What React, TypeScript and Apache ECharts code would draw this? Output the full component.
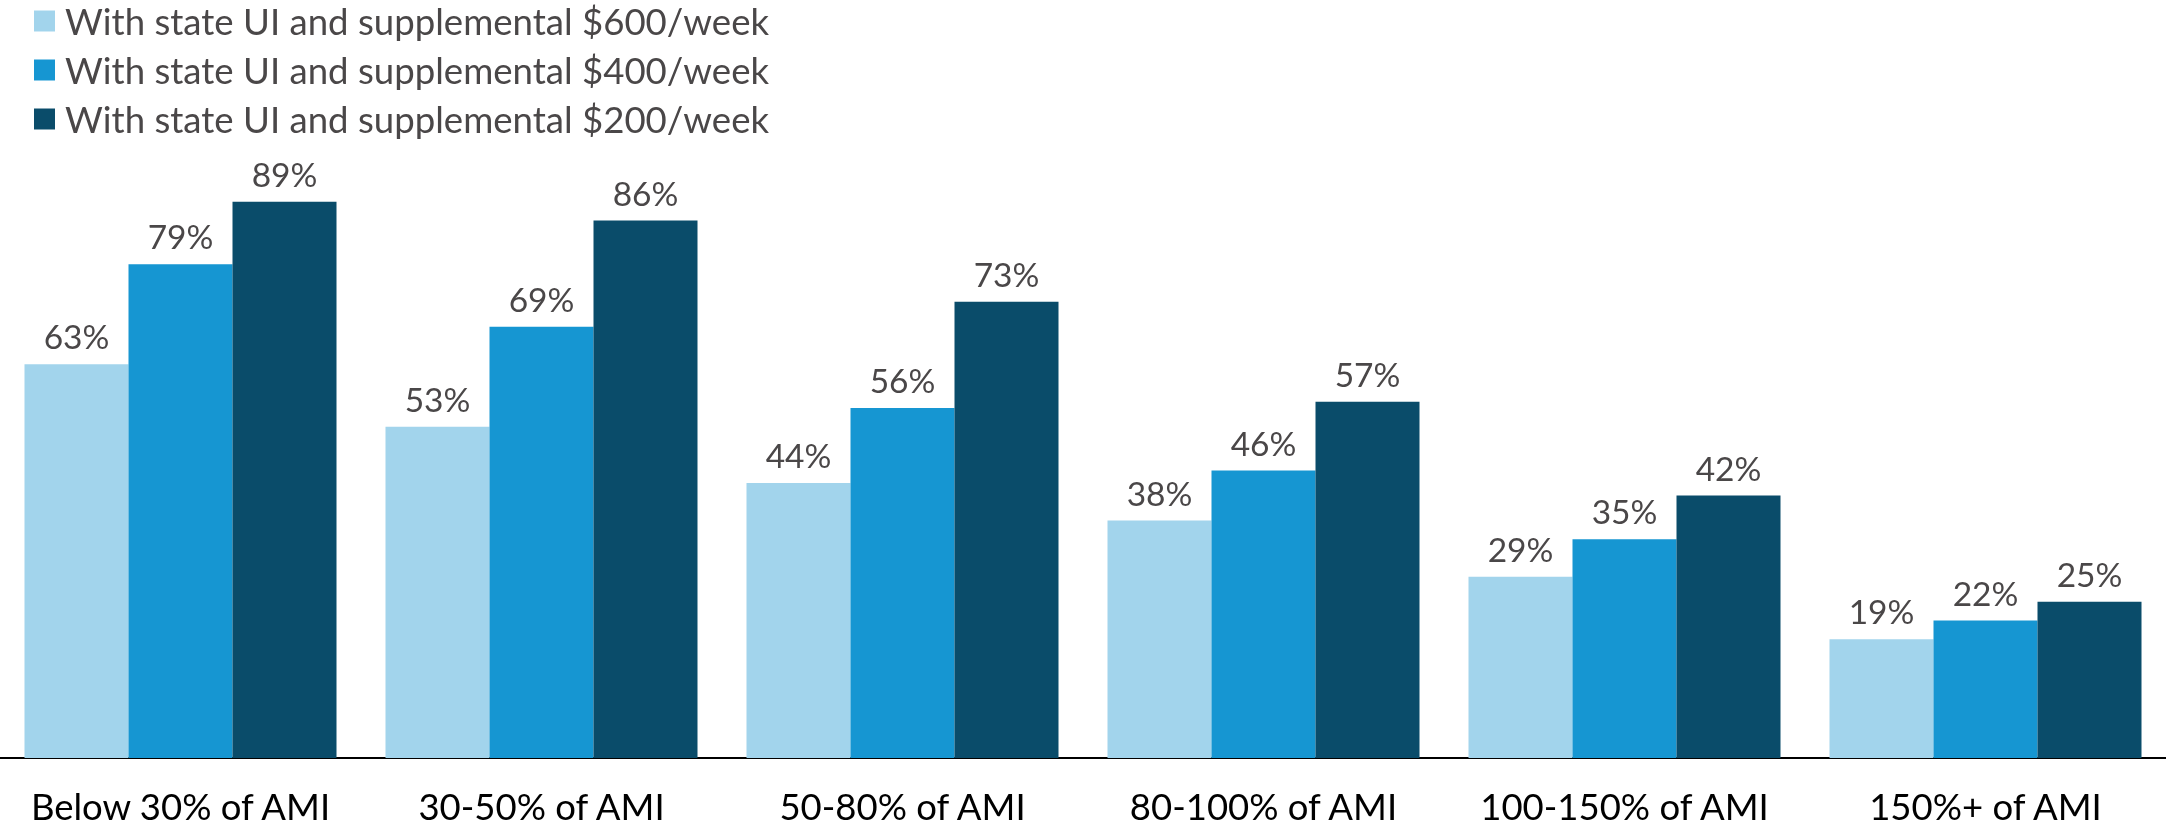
import React, { useEffect, useRef } from "react";
import * as echarts from "echarts";

const categories = [
  "Below 30% of AMI",
  "30-50% of AMI",
  "50-80% of AMI",
  "80-100% of AMI",
  "100-150% of AMI",
  "150%+ of AMI",
];
const seriesNames = [
  "With state UI and supplemental $600/week",
  "With state UI and supplemental $400/week",
  "With state UI and supplemental $200/week",
];
const values600 = [63, 53, 44, 38, 29, 19];
const values400 = [79, 69, 56, 46, 35, 22];
const values200 = [89, 86, 73, 57, 42, 25];
const colors = ["#a2d4ec", "#1696d2", "#0a4c6a"];

export default function App() {
  const ref = useRef<HTMLDivElement>(null);
  useEffect(() => {
    if (!ref.current) return;
    const chart = echarts.init(ref.current, undefined, { renderer: "svg" });
    const data = [values600, values400, values200];
    chart.setOption({
      animation: false,
      textStyle: { fontFamily: "Lato" },
      legend: {
        orient: "vertical",
        left: 34,
        top: 0,
        itemWidth: 21,
        itemHeight: 21,
        itemGap: 7,
        icon: "rect",
        padding: 0,
        textStyle: {
          fontFamily: "Lato",
          fontSize: 36.6,
          lineHeight: 42,
          color: "#4a4748",
          padding: [0, 0, 0, 5],
        },
        data: seriesNames,
      },
      grid: { left: -5, right: -3, top: 133, bottom: 70, containLabel: false },
      xAxis: {
        type: "category",
        data: categories,
        axisLine: { lineStyle: { color: "#000", width: 2 } },
        axisTick: { show: false },
        axisLabel: {
          interval: 0,
          fontFamily: "Lato",
          fontSize: 36.5,
          color: "#000",
          margin: 29,
        },
      },
      yAxis: {
        type: "value",
        min: 0,
        max: 100,
        show: false,
        splitLine: { show: false },
      },
      series: seriesNames.map((name, i) => ({
        name,
        type: "bar",
        data: data[i],
        barWidth: 104,
        barGap: "0%",
        itemStyle: { color: colors[i] },
        label: {
          show: true,
          position: "top",
          distance: 11,
          formatter: "{c}%",
          fontFamily: "Lato",
          fontSize: 33.5,
          color: "#4a4748",
        },
      })),
    });
    return () => chart.dispose();
  }, []);
  return (
    <div
      ref={ref}
      style={{ position: "fixed", left: 0, top: 0, width: 2166, height: 828 }}
    />
  );
}
